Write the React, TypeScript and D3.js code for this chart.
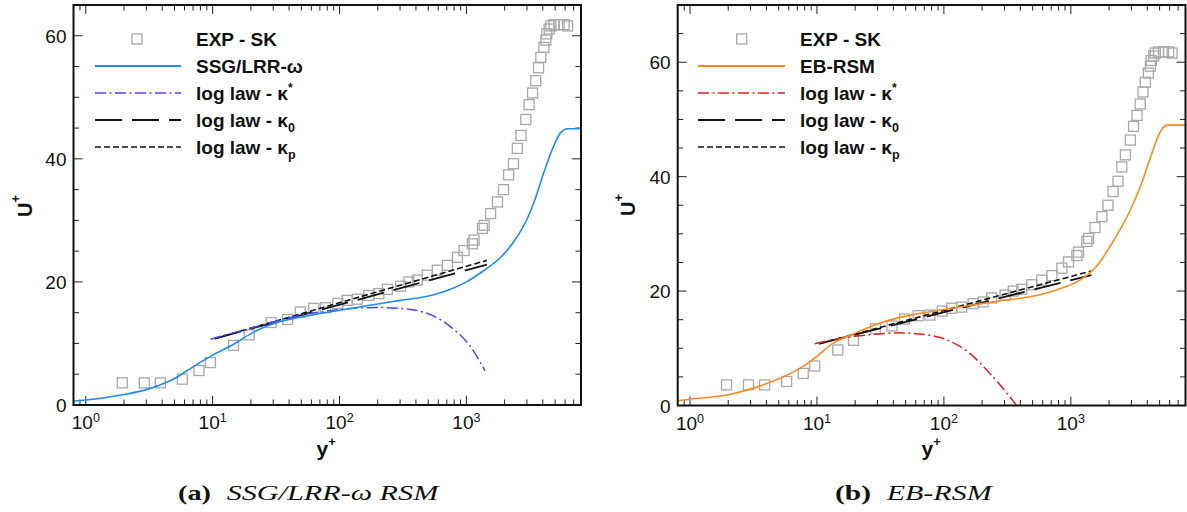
import React from 'react';
import * as d3 from 'd3';

type P = [number, number];

// ---------- data (y+, U+) ----------
const expData: P[] = [
  [1.94, 3.6], [2.89, 3.6], [3.87, 3.6], [5.77, 4.2], [7.8, 5.6], [9.6, 6.9],
  [14.6, 9.7], [19.4, 11.4], [28.9, 13.4], [39, 13.9], [49, 15.1], [62.7, 15.7],
  [77.6, 15.8], [97, 16.5], [115, 17.0], [138, 17.2], [170, 17.8], [204, 18.1],
  [238, 18.8], [303, 19.3], [352, 20.0], [410, 20.3], [492, 21.1], [590, 21.9],
  [709, 22.7], [850, 24.0], [958, 25.1], [1115, 26.2], [1150, 26.8], [1337, 28.7],
  [1380, 29.2], [1550, 31.1], [1757, 33.0], [1960, 35.0], [2150, 37.4], [2350, 39.2],
  [2520, 41.7], [2690, 43.8], [2940, 46.4], [3120, 48.8], [3320, 50.7], [3520, 52.7],
  [3700, 54.8], [3860, 56.5], [4080, 58.1], [4230, 59.3], [4300, 60.3], [4490, 61.1],
  [4630, 61.6], [4900, 61.8], [5370, 61.8], [5890, 61.8], [6270, 61.6],
];

const ssgData: P[] = [
  [0.8, 0.65], [1, 0.8], [2, 1.7], [3, 2.5], [5, 4.3], [7, 6.2], [10, 8.1],
  [15, 10.0], [20, 11.6], [30, 13.2], [50, 14.3], [100, 15.4], [200, 16.4],
  [300, 17.0], [500, 17.7], [750, 18.8], [1000, 20.0], [1380, 21.9], [1865, 24.0],
  [2375, 26.6], [3020, 30.3], [3500, 33.6], [4080, 37.8], [4900, 42.2],
  [5550, 44.3], [6270, 44.9], [8000, 44.9],
];

const ebData: P[] = [
  [0.8, 0.82], [1, 1.1], [2, 1.87], [2.97, 2.86], [4.8, 4.5], [7.35, 6.5],
  [10, 8.6], [13.4, 10.9], [19.3, 12.5], [29.5, 14.2], [45, 15.4], [77.6, 16.4],
  [142, 17.3], [260, 18.2], [475, 19.0], [771, 20.2], [1175, 21.9], [1590, 24.3],
  [2153, 28.7], [2915, 34.0], [3600, 38.8], [4300, 43.8], [5000, 47.6],
  [5700, 49.0], [8000, 49.0],
];

const kStarLeft: P[] = [
  [9.6, 10.7], [15, 11.8], [20, 12.5], [30, 13.5], [50, 14.6], [90, 15.4],
  [200, 15.84], [300, 15.7], [490, 14.9], [750, 12.7], [1080, 9.45], [1400, 5.6],
];

const kStarRight: P[] = [
  [9.6, 10.8], [15, 11.7], [20, 12.1], [30, 12.5], [45, 12.7], [65, 12.5],
  [105, 11.5], [160, 9.1], [230, 5.6], [312, 2.2], [373, 0], [400, -1],
];

const kZeroLaw: P[] = [[10.4, 10.8], [1450, 22.8]];
const kPLaw: P[] = [[10.4, 10.8], [1450, 23.5]];

const xMajorTicks = [1, 10, 100, 1000];
const xTickExponents = ['0', '1', '2', '3'];
const yMajorTicks = [0, 20, 40, 60];

const X_DOMAIN: P = [0.8, 8000];

const SANS = 'Liberation Sans, Arial, Helvetica, sans-serif';
const SERIF = 'Liberation Serif, Times New Roman, serif';

interface PanelProps {
  id: string;
  left: number;
  right: number;
  top: number;
  bottom: number;
  yMax: number;
  model: P[];
  modelColor: string;
  modelLabel: string;
  kStar: P[];
  kStarColor: string;
  legendX0: number;
  legendX1: number;
  legendMarkX: number;
  legendTextX: number;
  uLabelX: number;
  uLabelY: number;
  yLabelX: number;
}

function Panel(p: PanelProps) {
  const x = d3.scaleLog().domain(X_DOMAIN).range([p.left, p.right]);
  const y = d3.scaleLinear().domain([0, p.yMax]).range([p.bottom, p.top]);
  const line = d3
    .line<P>()
    .x((d) => x(d[0]))
    .y((d) => y(d[1]))
    .curve(d3.curveMonotoneX);

  const minorX: number[] = [];
  [0.1, 1, 10, 100, 1000].forEach((dec) => {
    for (let k = 2; k <= 9; k++) {
      const v = k * dec;
      if (v > X_DOMAIN[0] + 1e-9 && v < X_DOMAIN[1] - 1e-9) minorX.push(v);
    }
  });
  const minorY: number[] = d3.range(5, p.yMax, 5).filter((v) => v % 20 !== 0);
  const majorY = d3.range(20, p.yMax, 20);

  const MJ = 9;
  const MN = 5.5;
  const tickColor = '#222';
  const clip = `clip-${p.id}`;

  const rows = [39, 66, 93, 120, 147];
  const lt = p.legendTextX;
  const txtStyle = { fontFamily: SANS, fontWeight: 700, fontSize: 19, fill: '#111' };

  return (
    <g>
      <defs>
        <clipPath id={clip}>
          <rect x={p.left} y={p.top} width={p.right - p.left} height={p.bottom - p.top} />
        </clipPath>
      </defs>

      {/* ticks */}
      <g stroke={tickColor} strokeWidth={1}>
        {xMajorTicks.map((v) => (
          <g key={'xm' + v}>
            <line x1={x(v)} x2={x(v)} y1={p.bottom} y2={p.bottom - MJ} />
            <line x1={x(v)} x2={x(v)} y1={p.top} y2={p.top + MJ} />
          </g>
        ))}
        {minorX.map((v) => (
          <g key={'xn' + v}>
            <line x1={x(v)} x2={x(v)} y1={p.bottom} y2={p.bottom - MN} />
            <line x1={x(v)} x2={x(v)} y1={p.top} y2={p.top + MN} />
          </g>
        ))}
        {majorY.map((v) => (
          <g key={'ym' + v}>
            <line x1={p.left} x2={p.left + MJ} y1={y(v)} y2={y(v)} />
            <line x1={p.right} x2={p.right - MJ} y1={y(v)} y2={y(v)} />
          </g>
        ))}
        {minorY.map((v) => (
          <g key={'yn' + v}>
            <line x1={p.left} x2={p.left + MN} y1={y(v)} y2={y(v)} />
            <line x1={p.right} x2={p.right - MN} y1={y(v)} y2={y(v)} />
          </g>
        ))}
      </g>

      {/* tick labels */}
      {yMajorTicks.map((v) => (
        <text
          key={'yl' + v}
          x={p.left - 7}
          y={y(v) + 7}
          textAnchor="end"
          style={{ fontFamily: SANS, fontSize: 19, fill: '#111' }}
        >
          {v}
        </text>
      ))}
      {xMajorTicks.map((v, i) => (
        <text
          key={'xl' + v}
          x={x(v)}
          y={p.bottom + 24}
          textAnchor="middle"
          style={{ fontFamily: SANS, fontSize: 19, fill: '#111' }}
        >
          10
          <tspan dy={-7} style={{ fontSize: 12.5 }}>
            {xTickExponents[i]}
          </tspan>
        </text>
      ))}

      {/* data */}
      <g clipPath={`url(#${clip})`}>
        {expData.map((d, i) => (
          <rect
            key={'e' + i}
            x={x(d[0]) - 5}
            y={y(d[1]) - 5}
            width={10}
            height={10}
            fill="none"
            stroke="#a8a8a8"
            strokeWidth={1.3}
          />
        ))}
        <path d={line(kZeroLaw) || ''} fill="none" stroke="#111" strokeWidth={1.8} strokeDasharray="27 10" />
        <path d={line(kPLaw) || ''} fill="none" stroke="#111" strokeWidth={1.6} strokeDasharray="6 3" />
        <path d={line(p.kStar) || ''} fill="none" stroke={p.kStarColor} strokeWidth={1.5} strokeDasharray="11 3.5 2 3.5" />
        <path d={line(p.model) || ''} fill="none" stroke={p.modelColor} strokeWidth={1.6} />
      </g>

      {/* frame */}
      <rect
        x={p.left}
        y={p.top}
        width={p.right - p.left}
        height={p.bottom - p.top}
        fill="none"
        stroke="#111"
        strokeWidth={2}
      />

      {/* legend */}
      <rect x={p.legendMarkX - 5} y={rows[0] - 5} width={10} height={10} fill="none" stroke="#a8a8a8" strokeWidth={1.3} />
      <line x1={p.legendX0} x2={p.legendX1} y1={rows[1]} y2={rows[1]} stroke={p.modelColor} strokeWidth={1.8} />
      <line x1={p.legendX0} x2={p.legendX1} y1={rows[2]} y2={rows[2]} stroke={p.kStarColor} strokeWidth={1.6} strokeDasharray="11 3.5 2 3.5" />
      <line x1={p.legendX0} x2={p.legendX1} y1={rows[3]} y2={rows[3]} stroke="#111" strokeWidth={1.8} strokeDasharray="27 10" />
      <line x1={p.legendX0} x2={p.legendX1} y1={rows[4]} y2={rows[4]} stroke="#111" strokeWidth={1.6} strokeDasharray="6 3" />

      <text x={lt} y={rows[0] + 7} style={txtStyle}>EXP - SK</text>
      <text x={lt} y={rows[1] + 7} style={txtStyle}>{p.modelLabel}</text>
      <text x={lt} y={rows[2] + 7} style={txtStyle}>
        log law - κ<tspan dy={-8} style={{ fontSize: 12 }}>*</tspan>
      </text>
      <text x={lt} y={rows[3] + 7} style={txtStyle}>
        log law - κ<tspan dy={5} style={{ fontSize: 12.5 }}>0</tspan>
      </text>
      <text x={lt} y={rows[4] + 7} style={txtStyle}>
        log law - κ<tspan dy={5} style={{ fontSize: 12.5 }}>p</tspan>
      </text>

      {/* axis titles */}
      <text
        transform={`translate(${p.uLabelX},${p.uLabelY}) rotate(-90)`}
        style={{ fontFamily: SANS, fontWeight: 700, fontSize: 20, fill: '#111' }}
      >
        U<tspan dy={-12} style={{ fontSize: 13 }}>+</tspan>
      </text>
      <text x={p.yLabelX} y={456} style={{ fontFamily: SANS, fontWeight: 700, fontSize: 21, fill: '#111' }}>
        y<tspan dy={-10} style={{ fontSize: 13 }}>+</tspan>
      </text>
    </g>
  );
}

export default function App() {
  return (
    <svg
      width={1187}
      height={512}
      viewBox="0 0 1187 512"
      style={{ position: 'absolute', left: 0, top: 0, background: '#fff' }}
    >
      <rect x={0} y={0} width={1187} height={512} fill="#fff" />
      <Panel
        id="a"
        left={73.5}
        right={581}
        top={5}
        bottom={405}
        yMax={65}
        model={ssgData}
        modelColor="#1e8cf5"
        modelLabel="SSG/LRR-ω"
        kStar={kStarLeft}
        kStarColor="#4848f8"
        legendX0={95}
        legendX1={181}
        legendMarkX={137}
        legendTextX={196}
        uLabelX={31.5}
        uLabelY={217}
        yLabelX={316.5}
      />
      <Panel
        id="b"
        left={677.7}
        right={1185.5}
        top={5}
        bottom={405.5}
        yMax={70}
        model={ebData}
        modelColor="#ff8a1c"
        modelLabel="EB-RSM"
        kStar={kStarRight}
        kStarColor="#e0201e"
        legendX0={698}
        legendX1={785}
        legendMarkX={741.7}
        legendTextX={800}
        uLabelX={635}
        uLabelY={216}
        yLabelX={921.5}
      />
      {/* captions */}
      <text x={178} y={500} textLength={33} lengthAdjust="spacingAndGlyphs" style={{ fontFamily: SERIF, fontWeight: 700, fontSize: 21, fill: '#111' }}>
        (a)
      </text>
      <text x={226.7} y={500} textLength={211.6} lengthAdjust="spacingAndGlyphs" style={{ fontFamily: SERIF, fontStyle: 'italic', fontSize: 21, fill: '#111' }}>
        SSG/LRR-ω RSM
      </text>
      <text x={835} y={500} textLength={36} lengthAdjust="spacingAndGlyphs" style={{ fontFamily: SERIF, fontWeight: 700, fontSize: 21, fill: '#111' }}>
        (b)
      </text>
      <text x={886.7} y={500} textLength={105} lengthAdjust="spacingAndGlyphs" style={{ fontFamily: SERIF, fontStyle: 'italic', fontSize: 21, fill: '#111' }}>
        EB-RSM
      </text>
    </svg>
  );
}
